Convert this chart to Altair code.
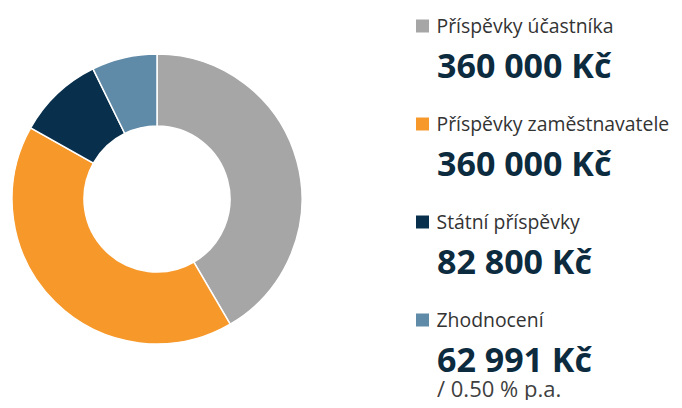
import altair as alt
import pandas as pd

categories = ["Příspěvky účastníka", "Příspěvky zaměstnavatele", "Státní příspěvky", "Zhodnocení"]
values = [360000, 360000, 82800, 62991]
value_labels = ["360 000 Kč", "360 000 Kč", "82 800 Kč", "62 991 Kč"]
colors = ["#a6a6a6", "#f7982a", "#08304d", "#5f8aa8"]
note = "/ 0.50 % p.a."

df = pd.DataFrame({
    "cat": categories,
    "val": values,
    "vlabel": value_labels,
    "idx": list(range(len(categories))),
})
note_df = pd.DataFrame({"idx": [3], "note": [note]})

color_scale = alt.Scale(domain=categories, range=colors)

arc = alt.Chart(df).mark_arc(
    outerRadius=145, innerRadius=73, stroke="white", strokeWidth=1.5
).encode(
    theta=alt.Theta("val:Q", stack=True),
    order=alt.Order("idx:Q"),
    color=alt.Color("cat:N", scale=color_scale, legend=None),
    x=alt.value(149),
    y=alt.value(191),
)

label_y = alt.Y("idx:Q", scale=alt.Scale(domain=[0, 3], range=[25, 319]), axis=None)
square_y = alt.Y("idx:Q", scale=alt.Scale(domain=[0, 3], range=[18, 312]), axis=None)

squares = alt.Chart(df).mark_square(size=169, opacity=1, filled=True).encode(
    x=alt.value(414.5),
    y=square_y,
    color=alt.Color("cat:N", scale=color_scale, legend=None),
)

labels = alt.Chart(df).mark_text(
    align="left", baseline="alphabetic", font="Open Sans", fontSize=19.4, color="#333333"
).encode(x=alt.value(428.5), y=label_y, text="cat:N")

vals = alt.Chart(df).mark_text(
    align="left", baseline="alphabetic", font="Open Sans", fontSize=34,
    fontWeight="bold", color="#0c2b3e", dy=45
).encode(x=alt.value(429), y=label_y, text="vlabel:N")

notes = alt.Chart(note_df).mark_text(
    align="left", baseline="alphabetic", font="Open Sans", fontSize=22, color="#3f3f3f", dy=70
).encode(x=alt.value(429), y=label_y, text="note:N")

chart = alt.layer(arc, squares, labels, vals, notes).resolve_scale(
    y="independent", x="independent"
).properties(
    width=666, height=392, padding=0, autosize=alt.AutoSizeParams(type="none")
).configure(background="white").configure_view(stroke=None, strokeWidth=0)

chart.save("out.html", embed_options={"renderer": "svg", "actions": False})
